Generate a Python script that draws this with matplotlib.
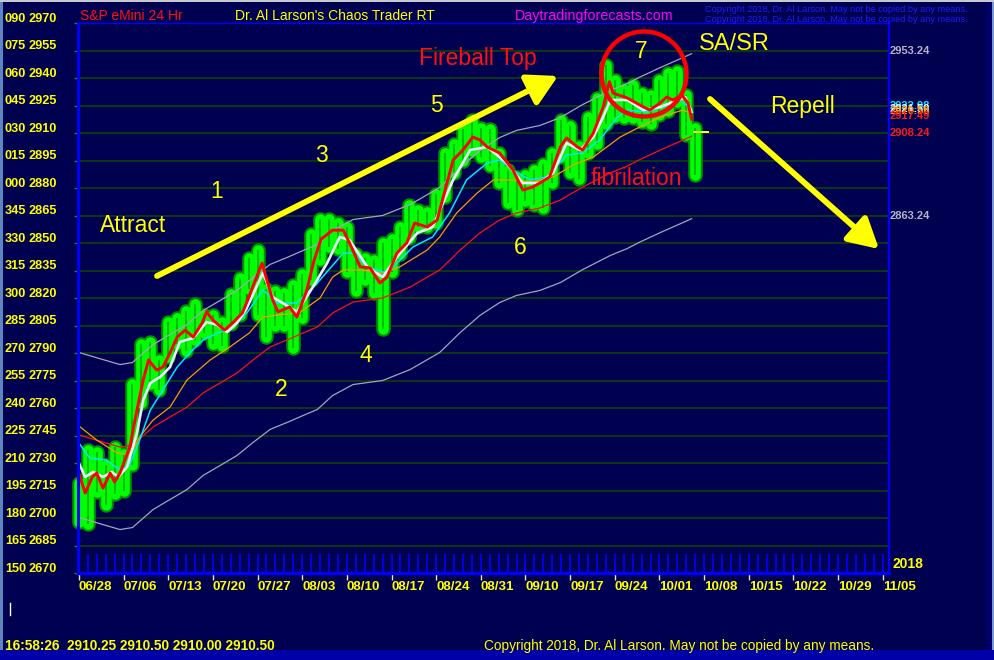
import matplotlib
matplotlib.use("Agg")
import matplotlib.pyplot as plt
from matplotlib.patches import Rectangle, Ellipse, FancyArrowPatch, ArrowStyle
from matplotlib.lines import Line2D
from matplotlib.transforms import blended_transform_factory

W, H, DPI = 995, 660, 100

# ---------------- data ----------------
week_labels = ["06/28", "07/06", "07/13", "07/20", "07/27", "08/03", "08/10",
               "08/17", "08/24", "08/31", "09/10", "09/17", "09/24", "10/01",
               "10/08", "10/15", "10/22", "10/29", "11/05"]
price_levels = [2670, 2685, 2700, 2715, 2730, 2745, 2760, 2775, 2790, 2805,
                2820, 2835, 2850, 2865, 2880, 2895, 2910, 2925, 2940, 2955, 2970]
degree_labels = ["150", "165", "180", "195", "210", "225", "240", "255", "270",
                 "285", "300", "315", "330", "345", "000", "015", "030", "045",
                 "060", "075", "090"]

# daily high / low of the 24 hr e-mini
bar_high = [2719, 2737, 2736, 2729, 2739, 2735, 2773, 2795, 2796, 2786,
            2807, 2809, 2813, 2817, 2811, 2811, 2807, 2822, 2831, 2842,
            2846, 2825, 2824, 2823, 2827, 2833, 2855, 2863, 2863, 2861,
            2859, 2844, 2842, 2841, 2850, 2852, 2859, 2871, 2868, 2867,
            2877, 2899, 2904, 2912, 2917, 2913, 2912, 2899, 2890, 2886,
            2887, 2890, 2893, 2899, 2917, 2914, 2903, 2919, 2929, 2947,
            2939, 2934, 2936, 2932, 2931, 2939, 2943, 2944, 2931, 2913]
bar_low = [2698, 2697, 2714, 2707, 2713, 2715, 2729, 2763, 2773, 2770,
           2788, 2795, 2791, 2797, 2801, 2795, 2794, 2806, 2811, 2825,
           2811, 2799, 2805, 2805, 2793, 2809, 2830, 2841, 2848, 2847,
           2834, 2824, 2830, 2823, 2803, 2834, 2844, 2853, 2859, 2859,
           2861, 2875, 2888, 2895, 2900, 2897, 2892, 2883, 2872, 2868,
           2873, 2871, 2869, 2883, 2897, 2888, 2885, 2899, 2904, 2915,
           2919, 2918, 2918, 2916, 2915, 2920, 2922, 2927, 2909, 2887]

# moving averages (trading-day position, value)
fast_days = [0, 0.7, 1.5, 2, 2.7, 3.5, 4, 4.6, 5.7, 6.5, 7.2, 7.8, 8.7, 9.4,
             10.2, 11, 11.9, 12.8, 13.8, 14.3, 15, 16.3, 17.2, 18.3, 18.8,
             20.5, 21.7, 22.3, 23.6, 24.4, 25.5, 26.3, 27.1, 28.4, 29.6, 30.3,
             31.5, 32.6, 33.7, 34.5, 35.6, 36.7, 37.6, 39, 40.1, 40.8, 41.9,
             43, 44.1, 44.9, 45.7, 47.1, 48.6, 49.7, 50.8, 51.6, 52.7, 53.9,
             54.6, 55.8, 56.4, 57.6, 58.7, 59.4, 59.8, 61.4, 62.8, 63.9, 65.1,
             65.8, 66.5, 67.5, 68.2, 68.6]
fast_vals = [2724.5, 2713.6, 2722.4, 2724.5, 2716.3, 2724.5, 2719.6, 2724.5,
             2738.7, 2758.9, 2775.3, 2786.2, 2780.7, 2782.3, 2790.0, 2798.7,
             2802.5, 2798.7, 2806.4, 2812.4, 2808.0, 2802.5, 2806.4, 2811.8,
             2817.8, 2839.0, 2818.9, 2812.4, 2815.1, 2809.6, 2824.0, 2840.0,
             2852.0, 2857.0, 2857.0, 2850.0, 2837.0, 2836.4, 2828.2, 2831.4,
             2844.5, 2850.0, 2860.9, 2858.7, 2862.5, 2875.1, 2895.3, 2900.7,
             2907.8, 2906.2, 2902.4, 2899.1, 2889.8, 2878.9, 2880.5, 2882.7,
             2886.0, 2902.4, 2907.3, 2902.4, 2900.7, 2910.0, 2924.2, 2938.0,
             2931.8, 2929.1, 2925.3, 2922.5, 2926.4, 2929.6, 2928.0, 2930.7,
             2926.4, 2917.49]

white_days = [0, 0.7, 1.6, 2.7, 3.7, 4.4, 5.4, 6.5, 7.2, 8, 9.1, 10.2, 11.3,
              12.8, 14.3, 15.5, 16.6, 17.7, 18.8, 20.6, 21.7, 22.8, 24.4,
              26.2, 27.8, 29.2, 30.3, 32.3, 34, 35.6, 37.9, 39.6, 41.9, 43.8,
              45.7, 47.9, 49.7, 51.6, 53.1, 54.6, 56.1, 57.6, 58.7, 59.5, 61.4,
              63.2, 65.1, 66.5, 67.9, 68.6]
white_vals = [2730.0, 2722.4, 2725.1, 2722.4, 2725.1, 2722.4, 2727.8, 2746.3,
              2764.3, 2773.6, 2776.9, 2782.3, 2796.0, 2798.2, 2806.9, 2805.3,
              2801.4, 2806.4, 2814.5, 2833.6, 2820.5, 2817.3, 2812.4, 2826.0,
              2839.1, 2853.3, 2851.6, 2836.9, 2831.4, 2842.3, 2855.5, 2858.7,
              2884.4, 2900.7, 2902.4, 2893.6, 2882.7, 2882.7, 2888.2, 2904.5,
              2900.7, 2907.8, 2918.7, 2928.0, 2928.0, 2922.5, 2924.2, 2926.9,
              2929.6, 2921.5]

cyan_days = [0, 1.2, 3.1, 4.6, 5.7, 6.8, 8, 9.4, 11, 12.4, 13.9, 15.8, 16.9,
             18.8, 20.6, 22.2, 24.4, 26.7, 29.6, 30.7, 32.3, 34.5, 37.4, 39.6,
             41.5, 43.4, 45.7, 47.1, 48.6, 50.5, 52.4, 54.6, 56.4, 58.3, 60.3,
             61.4, 63.6, 65.4, 67.3, 68.6]
cyan_vals = [2740.9, 2732.7, 2731.6, 2726.2, 2728.9, 2742.5, 2758.9, 2769.8,
             2782.3, 2790.0, 2797.1, 2801.4, 2802.5, 2811.8, 2824.4, 2817.3,
             2817.3, 2828.2, 2844.5, 2844.5, 2836.9, 2833.6, 2847.8, 2853.3,
             2866.4, 2884.4, 2893.6, 2895.3, 2889.8, 2884.4, 2886.0, 2898.0,
             2899.1, 2906.2, 2918.7, 2922.5, 2921.4, 2924.2, 2928.0, 2922.98]

orange_days = [0, 2, 4.3, 5.7, 6.8, 8.3, 10.2, 12.1, 14.7, 16.9, 19.1, 20.6,
               22.2, 24.7, 27, 28.4, 29.6, 31.5, 34, 35.9, 39, 40.4, 42.3,
               44.6, 46.4, 48.6, 50.8, 53.1, 55.3, 57.6, 60.6, 62.8, 65.1,
               67.6, 68.6]
orange_vals = [2750.2, 2742.5, 2735.4, 2734.3, 2744.2, 2753.4, 2760.5, 2775.3,
               2786.2, 2793.3, 2801.0, 2809.6, 2810.7, 2812.0, 2820.0, 2831.4,
               2835.3, 2835.3, 2833.6, 2836.9, 2846.2, 2853.3, 2866.4, 2877.3,
               2884.4, 2884.4, 2883.3, 2886.0, 2892.5, 2896.9, 2907.8, 2913.3,
               2918.7, 2922.5, 2920.58]

slow_days = [0, 2.7, 4.6, 6, 8.3, 10.2, 12.1, 13.9, 15.8, 17.7, 19.5, 21.4,
             23.3, 25.1, 26.7, 28.4, 30.7, 34, 37.1, 40.4, 42.7, 44.9, 47.1,
             49, 51.6, 53.9, 56.4, 59.5, 61.4, 62.8, 65.1, 68.6]
slow_vals = [2745.3, 2741.4, 2738.7, 2739.8, 2749.6, 2755.1, 2760.5, 2768.2,
             2773.6, 2779.1, 2786.2, 2793.3, 2797.1, 2800.9, 2804.2, 2811.8,
             2817.8, 2820.0, 2826.0, 2835.3, 2846.2, 2855.5, 2862.5, 2866.4,
             2869.1, 2873.4, 2880.5, 2888.2, 2892.0, 2895.5, 2900.7, 2908.24]
band_offset = 45.0  # envelope around the slow average

last_quote = ["16:58:26", "2910.25", "2910.50", "2910.00", "2910.50"]
last_close = 2910.50

# ---------------- figure ----------------
BG = "#000050"
fig = plt.figure(figsize=(W / DPI, H / DPI), dpi=DPI, facecolor=BG)


def fx(x):
    return x / W


def fy(y):
    return 1 - y / H


# window frame strips
frame = [((0, 0), 3, H, "#5d86c0"), ((986, 0), 6, H, "#00006a"),
         ((992, 0), 3, H, "#7b98cc"), ((0, 650), W, 10, "#0000a8"),
         ((0, 0), W, 1.5, "#c8c8d0")]
for (x0, y0), w, h, c in frame:
    fig.add_artist(Rectangle((fx(x0), fy(y0 + h)), w / W, h / H,
                             transform=fig.transFigure, color=c, lw=0))

ax = fig.add_axes([fx(78), fy(573), (889 - 78) / W, (573 - 23) / H])
ax.set_facecolor(BG)
ax.set_xlim(-0.1, 90.7)
ax.set_ylim(price_levels[0], price_levels[-1])

# horizontal grid
for p in price_levels[1:-1]:
    ax.axhline(p, color="#0c3c12", lw=1.3, zorder=1)

# spines
for side, lw in (("left", 2.2), ("bottom", 2.4), ("top", 1.0), ("right", 1.6)):
    ax.spines[side].set_color("#0000ff")
    ax.spines[side].set_linewidth(lw)
    ax.spines[side].set_zorder(10)

ax.set_yticks(price_levels)
ax.tick_params(axis="y", which="major", color="#1e8a1e", length=3, width=1,
               labelleft=False)

tick_days = list(range(0, 5 * len(week_labels), 5))
ax.set_xticks(tick_days)
ax.set_xticklabels(week_labels)
ax.tick_params(axis="x", which="major", color="#e8e8c0", length=5, width=1,
               direction="out", pad=1, labelcolor="#ffff00", labelsize=9.6)
for lbl in ax.get_xticklabels():
    lbl.set_ha("left")
    lbl.set_fontweight("bold")
    lbl.set_family(["Liberation Sans", "DejaVu Sans"])

# blue daily tick marks along the bottom
bx = blended_transform_factory(ax.transData, ax.transAxes)
ax.vlines(range(0, 91), 0, 19 / 550, transform=bx, color="#0000ff", lw=1.2,
          zorder=9)

# price bars with glow
days = list(range(len(bar_high)))
ax.vlines(days, bar_low, bar_high, color="#009000", lw=10.5, capstyle="round",
          zorder=3, clip_on=False)
ax.vlines(days, bar_low, bar_high, color="#00ff00", lw=7.6, capstyle="round",
          zorder=4, clip_on=False)
ax.vlines(days, bar_low, bar_high, color="#00b400", lw=1.3, zorder=5,
          clip_on=False)

# averages and envelope
upper = [v + band_offset for v in slow_vals]
lower = [v - band_offset for v in slow_vals]
ax.plot(slow_days, upper, color="#a4a4bc", lw=0.9, zorder=6)
ax.plot(slow_days, lower, color="#a4a4bc", lw=0.9, zorder=6)
ax.plot(slow_days, slow_vals, color="#ff1010", lw=0.9, zorder=6)
ax.plot(orange_days, orange_vals, color="#ff9a00", lw=0.9, zorder=6)
ax.plot(cyan_days, cyan_vals, color="#00e8ff", lw=1.1, zorder=7)
ax.plot(white_days, white_vals, color="#ececff", lw=1.9, zorder=7)
ax.plot(fast_days, fast_vals, color="#ff0000", lw=2.1, zorder=8)

# current price marker
ax.hlines(last_close, 68.8, 70.5, color="#ffff40", lw=1.4, zorder=8)

# left price scale: degrees and prices
ly = blended_transform_factory(fig.transFigure, ax.transData)
narrow = ["Liberation Sans Narrow", "Liberation Sans", "DejaVu Sans"]
for deg, p in zip(degree_labels, price_levels):
    ax.text(fx(5), p + 0.6, deg, transform=ly, color="#ffff00", fontsize=9.2,
            fontweight="bold", family=narrow, va="baseline", ha="left",
            clip_on=False)
    ax.text(fx(29), p + 0.6, str(p), transform=ly, color="#ffff00",
            fontsize=9.2, fontweight="bold", family=narrow, va="baseline",
            ha="left", clip_on=False)

# right edge value tags (the stacked ones overlap on the chart itself)
ry = blended_transform_factory(ax.transAxes, ax.transData)
right_tags = [(slow_vals[-1] + band_offset, "#b4b4c8"),
              (slow_vals[-1] - band_offset, "#b4b4c8"),
              (slow_vals[-1], "#ff1a1a"),
              (cyan_vals[-1], "#00e8ff"),
              (white_vals[-1], "#f0f0ff"),
              (orange_vals[-1], "#ff9a00"),
              (fast_vals[-1], "#ff1a1a")]
for val, col in right_tags:
    ax.text(1.0 + 1 / 811, val, f"{val:.2f}", transform=ry, color=col,
            fontsize=8, fontweight="bold", family=narrow, va="baseline",
            ha="left", clip_on=False)

fig.text(fx(893), fy(568), "2018", color="#ffff00", fontsize=10,
         fontweight="bold", family=["Liberation Sans", "DejaVu Sans"],
         va="baseline", ha="left")

# header
hdr = ["Liberation Sans", "DejaVu Sans"]
fig.text(fx(80), fy(16), "S&P eMini 24 Hr", color="#ff1010", fontsize=10,
         family=hdr, va="center", ha="left")
fig.text(fx(235), fy(16), "Dr. Al Larson's Chaos Trader RT", color="#ffff00",
         fontsize=10, family=hdr, va="center", ha="left")
fig.text(fx(515), fy(16), "Daytradingforecasts.com", color="#ff00ff",
         fontsize=10.3, family=hdr, va="center", ha="left")
for yy in (9, 19):
    fig.text(fx(705), fy(yy), "Copyright 2018, Dr. Al Larson. May not be copied by any means.",
             color="#1c1cff", fontsize=6.6, family=hdr, va="center", ha="left")

# footer
fig.text(fx(5), fy(646), "  ".join([last_quote[0], " ".join(last_quote[1:])]),
         color="#ffff00", fontsize=9.8, fontweight="bold", family=hdr,
         va="center", ha="left")
fig.text(fx(484), fy(646), "Copyright 2018, Dr. Al Larson. May not be copied by any means.",
         color="#ffff00", fontsize=9.8, family=hdr, va="center", ha="left")
fig.add_artist(Line2D([fx(10.5), fx(10.5)], [fy(603), fy(615)],
                      transform=fig.transFigure, color="white", lw=1))

# chart annotations
notes = [("Attract", 133, 226, "#ffff00", 16.5),
         ("1", 217, 192, "#ffff00", 16.5),
         ("2", 281, 390, "#ffff00", 16.5),
         ("3", 321, 155, "#ffff00", 16.5),
         ("4", 366, 356, "#ffff00", 16.5),
         ("5", 436, 105, "#ffff00", 16.5),
         ("6", 520, 247, "#ffff00", 16.5),
         ("7", 641, 51, "#ffff00", 16.5),
         ("Fireball Top", 478, 58, "#ff1010", 16.5),
         ("SA/SR", 734, 44, "#ffff00", 17),
         ("Repell", 803, 107, "#ffff00", 16.5),
         ("fibrilation", 636, 178, "#ff1010", 16.5)]
for txt, x, y, col, size in notes:
    fig.text(fx(x), fy(y), txt, color=col, fontsize=size, family=hdr,
             ha="center", va="center", zorder=20)

fig.add_artist(Ellipse((fx(644), fy(74)), 85 / W, 85 / H,
                       transform=fig.transFigure, fill=False,
                       edgecolor="#ff0000", lw=3.2, zorder=20))

arrow_style = ArrowStyle("-|>", head_length=0.9, head_width=0.5)
for (x0, y0), (x1, y1) in (((157, 276), (558, 76)), ((710, 99), (879, 249))):
    fig.add_artist(FancyArrowPatch((fx(x0), fy(y0)), (fx(x1), fy(y1)),
                                   transform=fig.transFigure,
                                   arrowstyle=arrow_style, mutation_scale=20,
                                   color="#ffff00", lw=4.2, zorder=20,
                                   shrinkA=0, shrinkB=0))

fig.savefig("out.png", dpi=DPI, facecolor=BG)
